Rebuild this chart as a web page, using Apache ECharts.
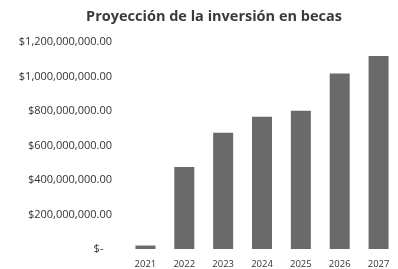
<!DOCTYPE html>
<html><head><meta charset="utf-8">
<script src="https://cdn.jsdelivr.net/npm/echarts@6/dist/echarts.min.js"></script>
<style>html,body{margin:0;padding:0;background:#fff}#c{width:398px;height:269px}</style>
</head><body><div id="c"></div>
<script>
const categories = ['2021','2022','2023','2024','2025','2026','2027'];
const values = [20000000, 475000000, 674000000, 767000000, 802000000, 1018000000, 1119000000];
const yTicks = [0, 200000000, 400000000, 600000000, 800000000, 1000000000, 1200000000];

function fmt(v){
  if (v === 0) return '$-   ';
  return '$' + v.toLocaleString('en-US') + '.00';
}
const chart = echarts.init(document.getElementById('c'), null, {renderer:'canvas'});
chart.setOption({
  animation:false,
  backgroundColor:'#fff',
  title:{text:'Proyección de la inversión en becas', left:209, top:4, textAlign:'center',
    textStyle:{fontFamily:'Open Sans', fontWeight:'bold', fontSize:14.5, color:'#3a3a3a'}},
  grid:{left:126, top:42, width:279, height:207, containLabel:false},
  xAxis:{type:'category', data:categories, axisLine:{show:false}, axisTick:{show:false},
    axisLabel:{fontFamily:'Open Sans', fontSize:9.5, color:'#333', margin:10}},
  yAxis:{type:'value', min:yTicks[0], max:yTicks[yTicks.length-1], interval:yTicks[1]-yTicks[0], splitLine:{show:false},
    axisLine:{show:false}, axisTick:{show:false},
    axisLabel:{formatter:fmt, fontFamily:'Open Sans', fontSize:11, color:'#333', margin:14}},
  series:[{type:'bar', data:values, barWidth:20, itemStyle:{color:'#6a6a6a'}}]
});
</script></body></html>
